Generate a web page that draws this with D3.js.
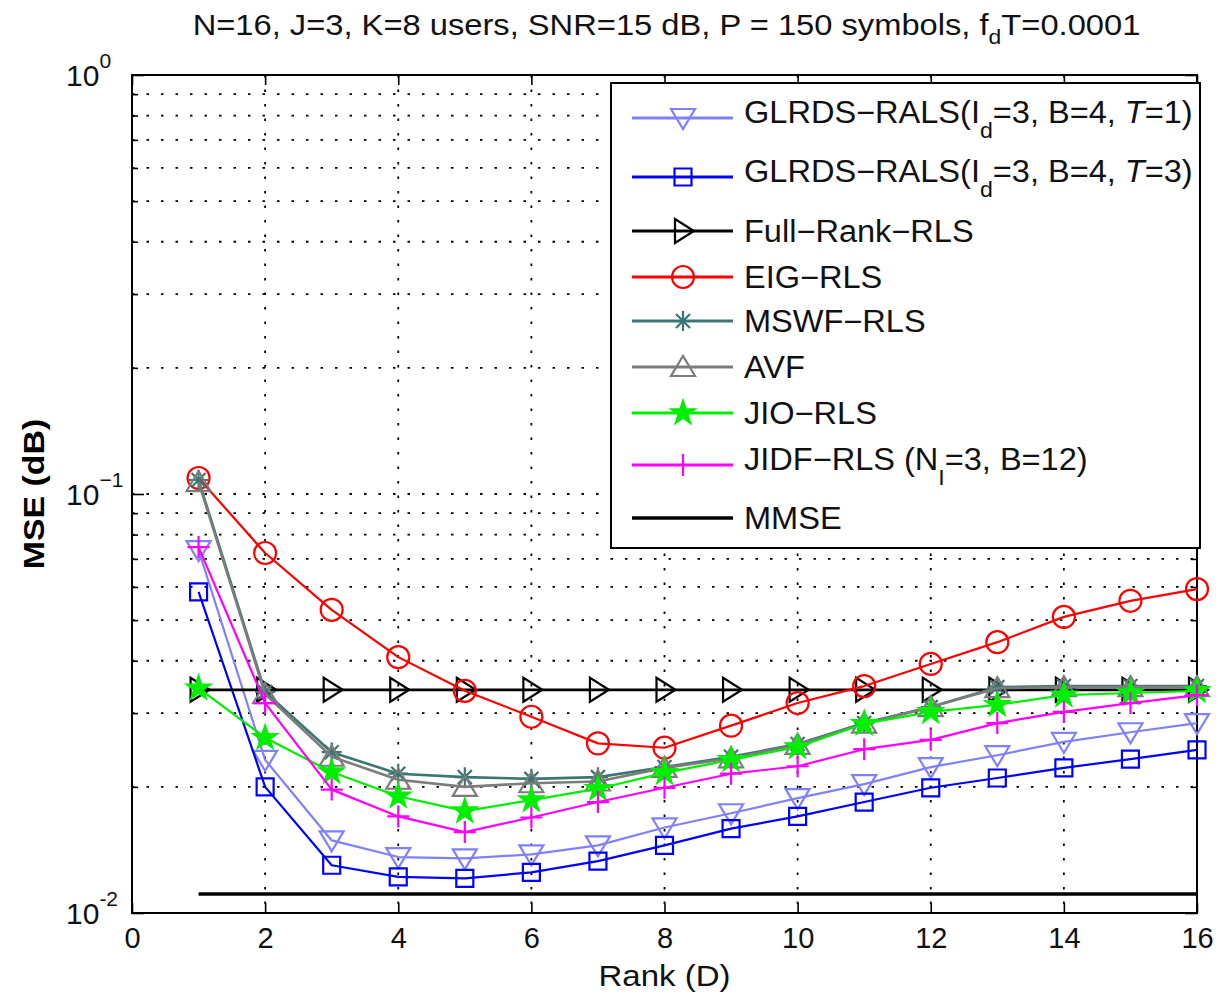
<!DOCTYPE html>
<html>
<head>
<meta charset="utf-8">
<script src="https://cdn.jsdelivr.net/npm/d3@7"></script>
<style>
  body { margin: 0; background: #fff; }
  svg { display: block; font-family: "Liberation Sans", Arial, sans-serif; }
</style>
</head>
<body>
<svg id="canvas" width="1220" height="998"></svg>
<script>
// ranks on the x axis
const ranks = [1, 2, 3, 4, 5, 6, 7, 8, 9, 10, 11, 12, 13, 14, 15, 16];

// MSE values, one per rank
const glrdsT1 = [0.0735, 0.0232, 0.0149, 0.0136, 0.0135, 0.0138, 0.0145, 0.0160, 0.0173, 0.0188, 0.0203, 0.0223, 0.0238, 0.0256, 0.0270, 0.0284];
const glrdsT3 = [0.0584, 0.0200, 0.0130, 0.0122, 0.0121, 0.0125, 0.0133, 0.0145, 0.0159, 0.0170, 0.0184, 0.0199, 0.0210, 0.0222, 0.0233, 0.0245];
const fullRank = [0.0341, 0.0341, 0.0341, 0.0341, 0.0341, 0.0341, 0.0341, 0.0341, 0.0341, 0.0341, 0.0341, 0.0341, 0.0341, 0.0341, 0.0341, 0.0341];
const eigRls = [0.1092, 0.0723, 0.0529, 0.0408, 0.0339, 0.0294, 0.0254, 0.0248, 0.0280, 0.0317, 0.0348, 0.0393, 0.0443, 0.0509, 0.0556, 0.0593];
const mswfRls = [0.1080, 0.0337, 0.0242, 0.0215, 0.0211, 0.0209, 0.0211, 0.0223, 0.0236, 0.0253, 0.0284, 0.0310, 0.0346, 0.0348, 0.0348, 0.0348];
const avf = [0.1068, 0.0333, 0.0236, 0.0208, 0.0200, 0.0204, 0.0206, 0.0222, 0.0234, 0.0252, 0.0283, 0.0310, 0.0344, 0.0346, 0.0346, 0.0346];
const jioRls = [0.0344, 0.0262, 0.0217, 0.0190, 0.0175, 0.0186, 0.0198, 0.0216, 0.0232, 0.0249, 0.0283, 0.0302, 0.0314, 0.0331, 0.0335, 0.0339];
const jidfRls = [0.0747, 0.0317, 0.0197, 0.0170, 0.0156, 0.0169, 0.0184, 0.0199, 0.0215, 0.0224, 0.0246, 0.0259, 0.0284, 0.0302, 0.0317, 0.0331];
const mmse = [0.0111, 0.0111, 0.0111, 0.0111, 0.0111, 0.0111, 0.0111, 0.0111, 0.0111, 0.0111, 0.0111, 0.0111, 0.0111, 0.0111, 0.0111, 0.0111];

// tick values
const xTicks = [0, 2, 4, 6, 8, 10, 12, 14, 16];
const yMajor = [0.01, 0.1, 1];
const yMinor = [0.02, 0.03, 0.04, 0.05, 0.06, 0.07, 0.08, 0.09, 0.2, 0.3, 0.4, 0.5, 0.6, 0.7, 0.8, 0.9];
const yExponents = ["-2", "\u22121", "0"];

const M = "\u2212"; // matlab draws '-' as a minus sign
const series = [
  { values: glrdsT1, color: "#8080ff", marker: "tridown", width: 2.2,
    label: [["GLRDS" + M + "RALS(I"], ["d", "sub"], ["=3, B=4, "], ["T", "it"], ["=1)"]] },
  { values: glrdsT3, color: "#0000ff", marker: "square", width: 2.2,
    label: [["GLRDS" + M + "RALS(I"], ["d", "sub"], ["=3, B=4, "], ["T", "it"], ["=3)"]] },
  { values: fullRank, color: "#000000", marker: "triright", width: 2.8,
    label: [["Full" + M + "Rank" + M + "RLS"]] },
  { values: eigRls, color: "#ff0000", marker: "circle", width: 2.2,
    label: [["EIG" + M + "RLS"]] },
  { values: mswfRls, color: "#3a7772", marker: "asterisk", width: 2.6,
    label: [["MSWF" + M + "RLS"]] },
  { values: avf, color: "#7c7c7c", marker: "triup", width: 2.6,
    label: [["AVF"]] },
  { values: jioRls, color: "#00ee00", marker: "star", width: 2.2,
    label: [["JIO" + M + "RLS"]] },
  { values: jidfRls, color: "#ff00ff", marker: "plus", width: 2.2,
    label: [["JIDF" + M + "RLS (N"], ["I", "sub"], ["=3, B=12)"]] },
  { values: mmse, color: "#000000", marker: null, width: 3.6,
    label: [["MMSE"]] },
];

const settings = {
  left: 132, top: 75, right: 1197, bottom: 913,
  legend: { x: 611, y: 83, w: 589, h: 465 },
  legendRows: [118, 177, 231, 277, 321, 367, 413, 465, 518],
  stretch: 1.07, // the picture's text runs a bit wider than the font
};

// marker outlines, centred at 0,0
function markerPath(type) {
  switch (type) {
    case "tridown": return "M-12,-9L12,-9L0,11Z";
    case "triup": return "M-12,9L12,9L0,-11Z";
    case "triright": return "M-8,-12L-8,12L11,0Z";
    case "square": return "M-8.5,-8.5H8.5V8.5H-8.5Z";
    case "circle": return "M11,0A11,11 0 1 1 -11,0A11,11 0 1 1 11,0Z";
    case "plus": return "M-11,0H11M0,-11V11";
    case "asterisk": return "M-10,0H10M0,-10V10M-7,-7L7,7M-7,7L7,-7";
    case "star": {
      const pts = d3.range(10).map(i => {
        const r = i % 2 ? 4.6 : 12, a = -Math.PI / 2 + i * Math.PI / 5;
        return [r * Math.cos(a), r * Math.sin(a)];
      });
      return "M" + pts.join("L") + "Z";
    }
  }
  return "";
}

function graph() {
  const svg = d3.select("#canvas");
  const sx = settings.stretch;

  const x = d3.scaleLinear().domain([0, 16]).range([settings.left, settings.right]);
  const y = d3.scaleLog().domain([0.01, 1]).range([settings.bottom, settings.top]);

  // dotted grid
  const grid = svg.append("g")
    .attr("stroke", "#000")
    .attr("stroke-width", 1.8)
    .attr("stroke-dasharray", "2.5,12");
  grid.selectAll(".vg")
    .data(xTicks.slice(1, -1))
    .join("line")
    .attr("x1", d => x(d)).attr("x2", d => x(d))
    .attr("y1", settings.top).attr("y2", settings.bottom);
  grid.selectAll(".hg")
    .data(yMinor.concat([0.1]))
    .join("line")
    .attr("class", "hg")
    .attr("x1", settings.left).attr("x2", settings.right)
    .attr("y1", d => y(d)).attr("y2", d => y(d));

  // axes, ticks pointing inward
  const h = settings.bottom - settings.top, w = settings.right - settings.left;
  svg.append("g")
    .attr("transform", `translate(0,${settings.bottom})`)
    .call(d3.axisBottom(x).tickValues(xTicks).tickSizeInner(-10).tickSizeOuter(0).tickFormat(d3.format("d")))
    .call(g => g.selectAll("text").attr("dy", null).attr("y", 35).attr("font-size", 29).attr("fill", "#111"));
  svg.append("g")
    .attr("transform", `translate(0,${settings.top})`)
    .call(d3.axisTop(x).tickValues(xTicks).tickSizeInner(-10).tickSizeOuter(0).tickFormat(""));
  svg.append("g")
    .attr("transform", `translate(${settings.left},0)`)
    .call(d3.axisLeft(y).tickValues(yMajor).tickSizeInner(-12).tickSizeOuter(0).tickFormat(""));
  svg.append("g")
    .attr("transform", `translate(${settings.left},0)`)
    .call(d3.axisLeft(y).tickValues(yMinor).tickSizeInner(-6).tickSizeOuter(0).tickFormat(""));
  svg.append("g")
    .attr("transform", `translate(${settings.right},0)`)
    .call(d3.axisRight(y).tickValues(yMajor).tickSizeInner(-12).tickSizeOuter(0).tickFormat(""));
  svg.append("g")
    .attr("transform", `translate(${settings.right},0)`)
    .call(d3.axisRight(y).tickValues(yMinor).tickSizeInner(-6).tickSizeOuter(0).tickFormat(""));
  svg.selectAll(".domain").remove();
  svg.selectAll(".tick line").attr("stroke", "#000").attr("stroke-width", 1.6);

  svg.append("rect")
    .attr("x", settings.left).attr("y", settings.top)
    .attr("width", w).attr("height", h)
    .attr("fill", "none").attr("stroke", "#000").attr("stroke-width", 2);

  // y tick labels 10^e
  const ylab = svg.append("g").attr("fill", "#111");
  yMajor.forEach((v, i) => {
    const t = ylab.append("text").attr("x", 66).attr("y", y(v) + 11).attr("font-size", 30);
    t.append("tspan").text("10");
    t.append("tspan").attr("dy", -18).attr("font-size", 21).text(yExponents[i]);
  });

  // data lines + markers
  const line = d3.line().x((d, i) => x(ranks[i])).y(d => y(d));
  const plot = svg.append("g");
  series.forEach(s => {
    const g = plot.append("g");
    g.append("path")
      .attr("d", line(s.values))
      .attr("fill", "none")
      .attr("stroke", s.color)
      .attr("stroke-width", s.width)
      .attr("stroke-linejoin", "round");
    if (s.marker) {
      g.selectAll("path.m")
        .data(s.values)
        .join("path")
        .attr("class", "m")
        .attr("transform", (d, i) => `translate(${x(ranks[i])},${y(d)})`)
        .attr("d", markerPath(s.marker))
        .attr("fill", s.marker === "star" ? s.color : "none")
        .attr("stroke", s.color)
        .attr("stroke-width", 2.2);
    }
  });

  // legend
  const L = settings.legend;
  const lg = svg.append("g");
  lg.append("rect")
    .attr("x", L.x).attr("y", L.y).attr("width", L.w).attr("height", L.h)
    .attr("fill", "#fff").attr("stroke", "#000").attr("stroke-width", 2);
  series.forEach((s, i) => {
    const ly = settings.legendRows[i];
    const hasSub = s.label.some(p => p[1] === "sub");
    lg.append("line")
      .attr("x1", 632).attr("x2", 733).attr("y1", ly).attr("y2", ly)
      .attr("stroke", s.color).attr("stroke-width", Math.max(s.width, 2.8));
    if (s.marker) {
      lg.append("path")
        .attr("transform", `translate(683,${ly})`)
        .attr("d", markerPath(s.marker))
        .attr("fill", s.marker === "star" ? s.color : "none")
        .attr("stroke", s.color).attr("stroke-width", 2.2);
    }
    const t = lg.append("text")
      .attr("transform", `translate(744,${ly + (hasSub ? 5 : 11)}) scale(1.05,1)`)
      .attr("font-size", 31).attr("fill", "#111");
    let shifted = false;
    s.label.forEach(p => {
      const sp = t.append("tspan").text(p[0]);
      if (p[1] === "sub") { sp.attr("dy", 15).attr("font-size", 22); shifted = true; }
      else if (shifted) { sp.attr("dy", -15); shifted = false; }
      if (p[1] === "it") sp.attr("font-style", "italic");
    });
  });

  // title and axis labels
  const title = svg.append("text")
    .attr("transform", `translate(${(settings.left + settings.right) / 2 + 2},35) scale(${sx + 0.02},1)`)
    .attr("text-anchor", "middle").attr("font-size", 30).attr("fill", "#111");
  title.append("tspan").text("N=16, J=3, K=8 users, SNR=15 dB, P = 150 symbols, f");
  title.append("tspan").attr("dy", 9).attr("font-size", 21).text("d");
  title.append("tspan").attr("dy", -9).text("T=0.0001");

  svg.append("text")
    .attr("transform", `translate(${(settings.left + settings.right) / 2},986) scale(${sx + 0.03},1)`)
    .attr("text-anchor", "middle").attr("font-size", 30).attr("fill", "#111")
    .text("Rank (D)");
  svg.append("text")
    .attr("transform", `translate(44,${y(0.1)}) rotate(-90) scale(1.13,1)`)
    .attr("text-anchor", "middle").attr("font-size", 30).attr("font-weight", "bold")
    .text("MSE (dB)");
}

window.addEventListener("DOMContentLoaded", () => graph());
</script>
</body>
</html>
